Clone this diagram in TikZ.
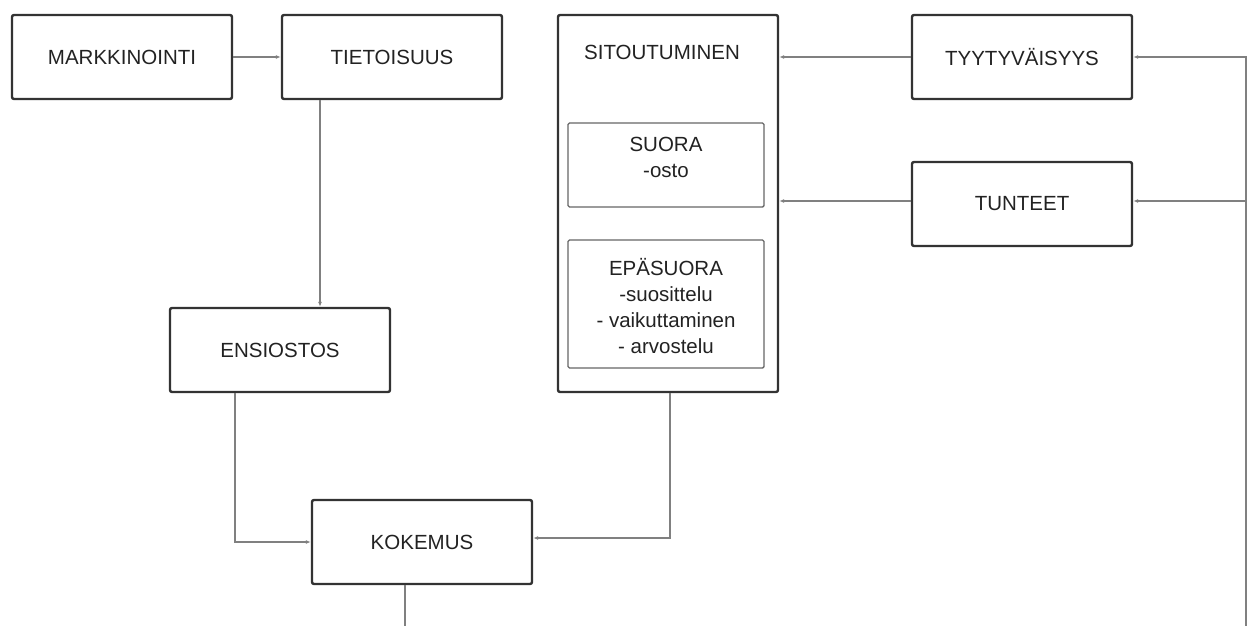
\documentclass[tikz,border=0pt]{standalone}
\usepackage{fontspec}
\setmainfont{Liberation Sans}
\usetikzlibrary{arrows.meta}
\definecolor{boxc}{HTML}{333333}
\definecolor{linec}{HTML}{808080}
\definecolor{innerc}{HTML}{666666}
\definecolor{textc}{HTML}{222222}
\tikzset{
  box/.style={draw=boxc, line width=2.4pt, rounded corners=2pt, minimum width=220pt, minimum height=84pt, inner sep=0pt, text=textc, font=\fontsize{20.5}{24}\selectfont},
  inbox/.style={draw=innerc, line width=1.4pt, rounded corners=1.5pt, inner sep=0pt},
  conn/.style={draw=linec, line width=1.2pt, -{Latex[length=5pt,width=4pt]}},
  plain/.style={draw=linec, line width=1.2pt},
  lbl/.style={text=textc, font=\fontsize{20.5}{26}\selectfont, align=center, inner sep=0pt}
}
\begin{document}
\begin{tikzpicture}[x=1pt,y=-1pt]
\useasboundingbox (0,0) rectangle (1250,626);
% boxes
\node[box] (mark) at (122,57) {MARKKINOINTI};
\node[box] (tieto) at (392,57) {TIETOISUUS};
\node[box] (ensi) at (280,350) {ENSIOSTOS};
\node[box] (koke) at (422,542) {KOKEMUS};
\node[box] (tyyt) at (1022,57) {TYYTYVÄISYYS};
\node[box] (tunt) at (1022,204) {TUNTEET};
\node[box, minimum width=220pt, minimum height=377pt] (sito) at (668,203.5) {};
\node[lbl] (sitol) at (662,52) {SITOUTUMINEN};
\node[inbox, minimum width=196pt, minimum height=84pt] (suora) at (666,165) {};
\node[lbl, anchor=north] (suoral) at (666,137) {SUORA\\-osto};
\node[inbox, minimum width=196pt, minimum height=128pt] (epa) at (666,304) {};
\node[lbl, anchor=north] (epal) at (666,258) {EPÄSUORA\\-suosittelu\\- vaikuttaminen\\- arvostelu};
% free ends
\coordinate (kbot) at (405,626);
\coordinate (rbot) at (1246,626);
\coordinate (rtop) at (1246,57);
\coordinate (rmid) at (1246,201);
% connectors
\draw[conn] (mark.east) -- (tieto.west);
\draw[conn] (tieto.south -| 320,0) -- (ensi.north -| 320,0);
\draw[conn] (ensi.south -| 235,0) |- (koke.west);
\draw[conn] (sito.south -| 670,0) |- (koke.east |- 0,538);
\draw[conn] (tyyt.west) -- (sito.east |- tyyt.west);
\draw[conn] (tunt.west |- 0,201) -- (sito.east |- 0,201);
\draw[plain] (koke.south -| kbot) -- (kbot);
\draw[conn] (rbot) -- (rtop) -- (tyyt.east);
\draw[conn] (rmid) -- (tunt.east |- rmid);
\end{tikzpicture}
\end{document}
